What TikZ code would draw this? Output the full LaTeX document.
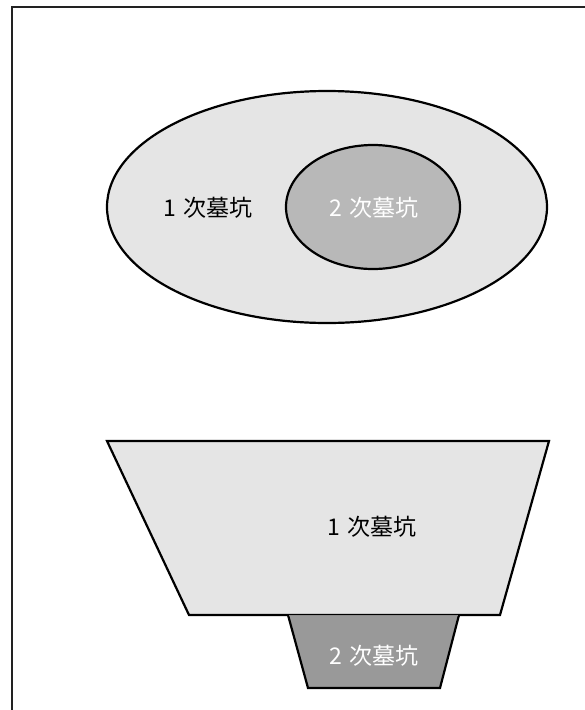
\documentclass[tikz,border=0pt]{standalone}
\usepackage{fontspec}
\setmainfont{Noto Sans CJK JP}
\usetikzlibrary{shapes.geometric}
\definecolor{lightfill}{HTML}{E5E5E5}
\definecolor{midfill}{HTML}{B8B8B8}
\definecolor{darkfill}{HTML}{999999}
\definecolor{framecol}{HTML}{222222}
\tikzset{
  outline/.style={draw=black, line width=2.2pt, line join=miter},
  lbl/.style={font=\fontsize{23}{26}\selectfont, inner sep=0pt},
}
\begin{document}
\begin{tikzpicture}[x=1pt,y=-1pt]
\useasboundingbox (0,0) rectangle (585,710);
% frame (right and bottom outside the page)
\draw[framecol, line width=2.4pt] (12,730) -- (12,7) -- (600,7);
% top: ellipses
\draw[outline, fill=lightfill] (327,207) ellipse [x radius=220, y radius=116];
\draw[outline, fill=midfill] (373,207) ellipse [x radius=87, y radius=62];
\node[lbl] (p1) at (208,208) {1\hspace{0.35em}次墓坑};
\node[lbl, text=white] (p2) at (374,208) {2\hspace{0.35em}次墓坑};
% bottom: section
\draw[outline, fill=lightfill] (107,441) -- (549,441) -- (500,615) -- (189,615) -- cycle;
\fill[darkfill] (288,615) -- (459,615) -- (440,688) -- (308,688) -- cycle;
\draw[outline] (288,615) -- (308,688) -- (440,688) -- (459,615);
\draw[color=black!45, line width=1pt] (289,615.5) -- (458,615.5);
\node[lbl] (s1) at (372,527) {1\hspace{0.35em}次墓坑};
\node[lbl, text=white] (s2) at (374,656) {2\hspace{0.35em}次墓坑};
\end{tikzpicture}
\end{document}
